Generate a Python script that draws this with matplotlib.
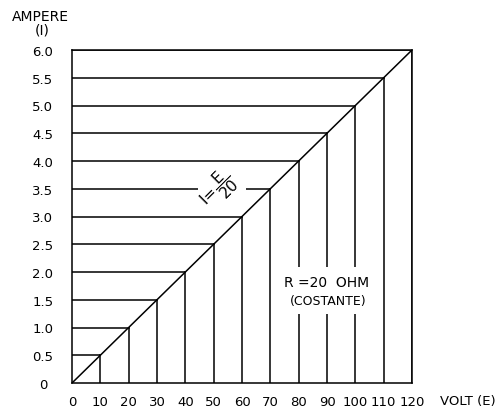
import matplotlib.pyplot as plt
from matplotlib.patches import Rectangle

# --- DATI ---
volt = [0, 10, 20, 30, 40, 50, 60, 70, 80, 90, 100, 110, 120]
ampere = [0, 0.5, 1.0, 1.5, 2.0, 2.5, 3.0, 3.5, 4.0, 4.5, 5.0, 5.5, 6.0]
volt_labels = ["0", "10", "20", "30", "40", "50", "60", "70", "80", "90", "100", "110", "120"]
ampere_labels = ["0", "0.5", "1.0", "1.5", "2.0", "2.5", "3.0", "3.5", "4.0", "4.5", "5.0", "5.5", "6.0"]

LW = 1.1
fig = plt.figure(figsize=(4.98, 4.10), dpi=100)
ax = fig.add_axes([72 / 498, 26 / 410, 340 / 498, 333 / 410])

# retta I = E / 20
ax.plot([volt[0], volt[-1]], [ampere[0], ampere[-1]], color="black", lw=LW, zorder=2)

# scala: orizzontali fino alla retta, verticali dalla retta all'asse
for e, i in zip(volt[1:], ampere[1:]):
    ax.plot([0, e], [i, i], color="black", lw=LW, zorder=1)
    ax.plot([e, e], [0, i], color="black", lw=LW, zorder=1)

ax.set_xlim(0, 120)
ax.set_ylim(0, 6)
for s in ax.spines.values():
    s.set_linewidth(LW)

ax.set_xticks(volt)
ax.set_xticklabels(volt_labels)
ax.set_yticks(ampere)
ax.set_yticklabels(ampere_labels)
ax.tick_params(length=0, labelsize=9.5)
ax.tick_params(axis="x", pad=9)
ax.tick_params(axis="y", pad=21)
for t in ax.get_yticklabels():
    t.set_horizontalalignment("center")

# etichette
ax.text(1.082, -18 / 333, "VOLT (E)", transform=ax.transAxes, fontsize=9.5,
        ha="left", va="center")
fig.text(40 / 498, 1 - 17 / 410, "AMPERE", fontsize=10, ha="center", va="center")
fig.text(42 / 498, 1 - 31 / 410, "(I)", fontsize=10, ha="center", va="center")

# formula sulla linea dei 3.5 A
ax.add_patch(Rectangle((44.5, 3.2), 17, 0.6, facecolor="white", edgecolor="none", zorder=3))
ax.text(51.5, 3.5, r"$\mathrm{I}\!=\!\dfrac{\mathrm{E}}{\mathrm{20}}$", rotation=45, fontsize=11,
        ha="center", va="center", zorder=4)

# R costante
ax.add_patch(Rectangle((73, 1.24), 34.5, 0.85, facecolor="white", edgecolor="none", zorder=3))
ax.text(90, 1.82, "R =20  OHM", fontsize=10, ha="center", va="center", zorder=4)
ax.text(90.3, 1.48, "(COSTANTE)", fontsize=9, ha="center", va="center", zorder=4)

fig.savefig("out.png", dpi=100)
